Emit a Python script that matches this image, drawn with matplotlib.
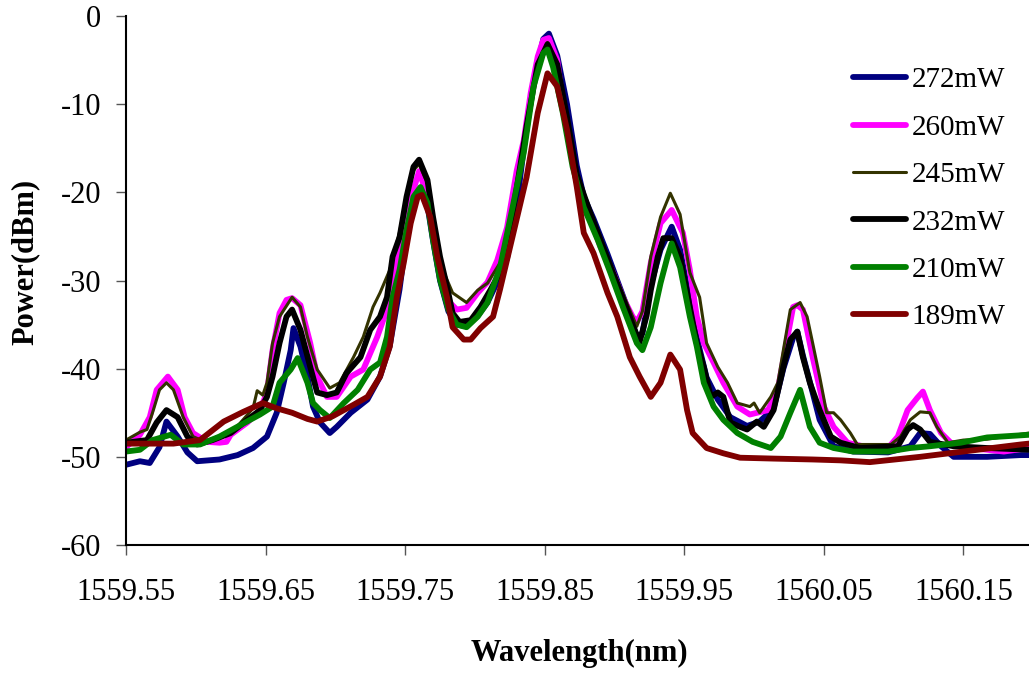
import matplotlib

matplotlib.use('Agg')
import matplotlib.pyplot as plt
import numpy as np

plt.rcParams['font.family'] = 'Liberation Serif'
plt.rcParams['axes.unicode_minus'] = False

# Wavelength (nm) / power (dBm)
wl_272 = [1559.550, 1559.560, 1559.567, 1559.574, 1559.579, 1559.587, 1559.594, 1559.601, 1559.617, 1559.630,
          1559.641, 1559.651, 1559.658, 1559.663, 1559.668, 1559.670, 1559.675, 1559.680, 1559.684, 1559.689,
          1559.696, 1559.701, 1559.711, 1559.723, 1559.732, 1559.739, 1559.746, 1559.751, 1559.756, 1559.761,
          1559.766, 1559.770, 1559.775, 1559.781, 1559.787, 1559.794, 1559.802, 1559.809, 1559.818, 1559.823,
          1559.830, 1559.835, 1559.842, 1559.849, 1559.853, 1559.859, 1559.866, 1559.873, 1559.878, 1559.885,
          1559.895, 1559.902, 1559.909, 1559.916, 1559.920, 1559.926, 1559.933, 1559.941, 1559.947, 1559.954,
          1559.959, 1559.966, 1559.974, 1559.983, 1559.995, 1560.004, 1560.014, 1560.021, 1560.028, 1560.031,
          1560.035, 1560.040, 1560.047, 1560.057, 1560.071, 1560.096, 1560.112, 1560.119, 1560.126, 1560.134,
          1560.143, 1560.167, 1560.191, 1560.197]
p_272 = [-50.9, -50.5, -50.7, -48.9, -46.0, -47.7, -49.5, -50.5, -50.3, -49.8,
         -49.0, -47.7, -45.0, -41.6, -37.9, -35.4, -37.5, -40.9, -44.3, -46.1,
         -47.3, -46.6, -45.0, -43.5, -40.9, -37.4, -31.0, -25.0, -21.0, -19.8,
         -21.5, -25.5, -30.0, -33.5, -35.0, -35.2, -34.0, -32.5, -29.5, -27.5,
         -21.5, -15.0, -7.5, -2.6, -2.0, -4.5, -10.0, -17.0, -20.5, -23.0,
         -27.0, -30.0, -33.0, -36.4, -36.0, -30.5, -26.5, -23.9, -26.5, -32.5,
         -36.5, -41.0, -43.5, -45.5, -46.5, -46.0, -44.5, -40.0, -36.5, -35.8,
         -38.5, -41.5, -45.8, -48.8, -49.4, -49.5, -48.8, -47.3, -47.4, -48.8,
         -50.0, -50.0, -49.8, -49.8]

wl_260 = [1559.550, 1559.560, 1559.567, 1559.572, 1559.580, 1559.587, 1559.592, 1559.598, 1559.608, 1559.617,
          1559.622, 1559.625, 1559.637, 1559.646, 1559.651, 1559.655, 1559.660, 1559.665, 1559.669, 1559.675,
          1559.682, 1559.687, 1559.694, 1559.701, 1559.711, 1559.720, 1559.730, 1559.737, 1559.744, 1559.749,
          1559.756, 1559.760, 1559.766, 1559.770, 1559.775, 1559.782, 1559.787, 1559.794, 1559.802, 1559.809,
          1559.816, 1559.823, 1559.830, 1559.835, 1559.840, 1559.845, 1559.849, 1559.853, 1559.859, 1559.863,
          1559.868, 1559.875, 1559.883, 1559.890, 1559.899, 1559.906, 1559.913, 1559.916, 1559.920, 1559.926,
          1559.933, 1559.941, 1559.949, 1559.954, 1559.959, 1559.964, 1559.971, 1559.978, 1559.988, 1559.997,
          1560.010, 1560.017, 1560.024, 1560.028, 1560.031, 1560.035, 1560.042, 1560.050, 1560.057, 1560.067,
          1560.078, 1560.096, 1560.103, 1560.110, 1560.117, 1560.121, 1560.126, 1560.134, 1560.141, 1560.155,
          1560.179, 1560.197]
p_260 = [-48.9, -47.5, -45.5, -42.4, -40.9, -42.4, -45.5, -47.3, -48.3, -48.4,
         -48.3, -47.5, -46.1, -44.7, -42.7, -37.9, -33.7, -32.2, -32.0, -32.8,
         -37.1, -40.9, -43.2, -43.2, -40.9, -40.1, -36.4, -33.3, -27.3, -23.5,
         -19.7, -17.6, -20.5, -24.6, -28.8, -32.5, -33.3, -33.1, -31.4, -30.2,
         -27.7, -24.0, -17.5, -14.1, -8.7, -4.6, -2.7, -2.5, -5.0, -9.9,
         -14.9, -20.1, -23.1, -26.2, -29.1, -31.9, -34.1, -34.7, -33.5, -28.0,
         -23.5, -22.0, -24.6, -28.8, -34.1, -37.1, -39.3, -41.6, -44.3, -45.2,
         -44.7, -42.4, -36.4, -33.0, -32.8, -33.3, -38.7, -44.3, -46.6, -48.4,
         -48.8, -49.0, -47.7, -44.7, -43.3, -42.6, -44.7, -47.3, -48.4, -49.0,
         -49.4, -49.0]

wl_245 = [1559.550, 1559.560, 1559.565, 1559.569, 1559.574, 1559.579, 1559.584, 1559.591, 1559.598, 1559.608,
          1559.617, 1559.630, 1559.641, 1559.644, 1559.648, 1559.651, 1559.655, 1559.660, 1559.669, 1559.675,
          1559.680, 1559.687, 1559.696, 1559.703, 1559.713, 1559.720, 1559.727, 1559.732, 1559.739, 1559.746,
          1559.751, 1559.756, 1559.760, 1559.766, 1559.770, 1559.777, 1559.784, 1559.794, 1559.802, 1559.809,
          1559.818, 1559.823, 1559.830, 1559.837, 1559.845, 1559.852, 1559.859, 1559.866, 1559.873, 1559.883,
          1559.895, 1559.906, 1559.916, 1559.920, 1559.926, 1559.933, 1559.940, 1559.947, 1559.954, 1559.961,
          1559.966, 1559.974, 1559.981, 1559.988, 1559.997, 1560.000, 1560.004, 1560.012, 1560.017, 1560.021,
          1560.026, 1560.033, 1560.038, 1560.042, 1560.047, 1560.052, 1560.057, 1560.062, 1560.069, 1560.074,
          1560.098, 1560.105, 1560.112, 1560.119, 1560.126, 1560.131, 1560.139, 1560.150, 1560.167, 1560.197]
p_245 = [-48.1, -47.2, -46.9, -45.0, -42.4, -41.6, -42.4, -45.5, -47.7, -48.4,
         -47.8, -46.5, -44.5, -42.5, -43.0, -41.6, -37.1, -34.1, -31.9, -33.0,
         -36.4, -40.1, -42.2, -41.6, -38.7, -36.4, -33.0, -31.4, -28.8, -24.5,
         -20.5, -17.5, -16.8, -19.0, -24.3, -28.8, -31.4, -32.5, -31.1, -30.3,
         -28.0, -25.5, -20.0, -13.0, -5.5, -3.0, -5.5, -11.5, -18.0, -22.5,
         -27.5, -31.5, -35.2, -33.5, -27.3, -22.8, -20.1, -22.5, -29.1, -31.9,
         -37.1, -39.8, -41.6, -43.9, -44.3, -43.9, -45.0, -43.2, -41.6, -37.9,
         -33.3, -32.5, -34.1, -37.1, -40.9, -45.0, -45.0, -45.8, -47.3, -48.6,
         -48.6, -47.7, -45.8, -44.9, -45.0, -46.6, -48.4, -48.1, -48.0, -47.3]

wl_232 = [1559.550, 1559.565, 1559.572, 1559.579, 1559.587, 1559.594, 1559.601, 1559.612, 1559.625, 1559.637,
          1559.646, 1559.651, 1559.655, 1559.660, 1559.665, 1559.669, 1559.675, 1559.682, 1559.687, 1559.694,
          1559.701, 1559.708, 1559.718, 1559.725, 1559.732, 1559.737, 1559.741, 1559.746, 1559.751, 1559.756,
          1559.760, 1559.766, 1559.770, 1559.775, 1559.780, 1559.784, 1559.789, 1559.797, 1559.804, 1559.811,
          1559.818, 1559.823, 1559.830, 1559.837, 1559.845, 1559.852, 1559.859, 1559.866, 1559.873, 1559.883,
          1559.895, 1559.906, 1559.913, 1559.918, 1559.923, 1559.926, 1559.931, 1559.935, 1559.941, 1559.947,
          1559.954, 1559.959, 1559.964, 1559.969, 1559.974, 1559.978, 1559.983, 1559.990, 1559.995, 1560.002,
          1560.007, 1560.014, 1560.021, 1560.026, 1560.031, 1560.035, 1560.040, 1560.047, 1560.055, 1560.062,
          1560.076, 1560.103, 1560.110, 1560.114, 1560.119, 1560.126, 1560.143, 1560.167, 1560.197]
p_232 = [-48.4, -48.1, -46.1, -44.7, -45.5, -47.7, -48.6, -48.1, -47.3, -45.8,
         -44.7, -43.2, -40.9, -37.1, -34.1, -33.3, -35.6, -39.8, -42.7, -43.0,
         -42.7, -40.5, -38.7, -35.6, -34.1, -31.9, -27.3, -25.1, -20.5, -17.1,
         -16.3, -18.6, -22.8, -27.3, -30.7, -33.7, -34.7, -34.5, -33.0, -31.1,
         -29.1, -26.0, -19.5, -12.5, -5.5, -3.2, -5.5, -11.5, -18.0, -22.5,
         -27.5, -32.0, -35.0, -37.0, -34.0, -31.1, -27.3, -25.2, -25.2, -27.3,
         -33.0, -37.1, -39.8, -43.2, -42.7, -43.2, -46.1, -46.6, -46.9, -46.0,
         -46.6, -44.7, -39.8, -36.7, -35.8, -38.7, -41.6, -44.7, -47.7, -48.4,
         -49.0, -48.8, -46.9, -46.4, -46.9, -48.3, -48.8, -49.0, -49.2]

wl_210 = [1559.550, 1559.560, 1559.569, 1559.582, 1559.591, 1559.603, 1559.617, 1559.632, 1559.646, 1559.655,
          1559.660, 1559.668, 1559.673, 1559.680, 1559.684, 1559.689, 1559.696, 1559.706, 1559.716, 1559.725,
          1559.732, 1559.737, 1559.741, 1559.746, 1559.751, 1559.756, 1559.761, 1559.766, 1559.770, 1559.775,
          1559.781, 1559.787, 1559.794, 1559.802, 1559.809, 1559.818, 1559.827, 1559.835, 1559.842, 1559.849,
          1559.852, 1559.856, 1559.863, 1559.870, 1559.878, 1559.888, 1559.897, 1559.906, 1559.916, 1559.920,
          1559.926, 1559.933, 1559.938, 1559.941, 1559.947, 1559.954, 1559.959, 1559.964, 1559.971, 1559.978,
          1559.988, 1559.999, 1560.012, 1560.019, 1560.026, 1560.033, 1560.040, 1560.047, 1560.057, 1560.071,
          1560.096, 1560.112, 1560.126, 1560.148, 1560.167, 1560.197]
p_210 = [-49.4, -49.2, -48.1, -47.5, -48.6, -48.6, -47.7, -46.4, -45.2, -44.3,
         -41.6, -40.1, -38.8, -41.6, -43.9, -44.7, -45.6, -43.9, -42.4, -40.1,
         -39.3, -36.4, -31.9, -28.8, -24.3, -20.5, -19.4, -21.2, -25.4, -29.9,
         -33.3, -35.0, -35.3, -34.1, -32.5, -28.5, -21.7, -15.5, -8.0, -4.2,
         -3.8, -5.8, -11.0, -17.1, -21.7, -25.4, -29.1, -33.0, -37.1, -37.9,
         -35.3, -30.3, -27.3, -25.8, -28.5, -34.1, -37.5, -41.6, -44.3, -45.8,
         -47.3, -48.3, -49.0, -47.7, -45.0, -42.4, -46.6, -48.4, -49.0, -49.4,
         -49.4, -49.0, -48.8, -48.4, -47.8, -47.5]

wl_189 = [1559.550, 1559.584, 1559.603, 1559.620, 1559.634, 1559.648, 1559.658, 1559.669, 1559.680, 1559.687,
          1559.698, 1559.713, 1559.723, 1559.732, 1559.739, 1559.744, 1559.749, 1559.754, 1559.759, 1559.762,
          1559.768, 1559.773, 1559.780, 1559.784, 1559.792, 1559.797, 1559.804, 1559.813, 1559.818, 1559.827,
          1559.837, 1559.845, 1559.852, 1559.859, 1559.866, 1559.873, 1559.878, 1559.885, 1559.895, 1559.902,
          1559.911, 1559.918, 1559.926, 1559.933, 1559.940, 1559.947, 1559.952, 1559.956, 1559.966, 1559.978,
          1559.990, 1560.014, 1560.042, 1560.062, 1560.083, 1560.119, 1560.155, 1560.191, 1560.197]
p_189 = [-48.5, -48.5, -48.1, -46.0, -44.9, -43.9, -44.5, -45.0, -45.7, -46.0,
         -45.4, -44.1, -43.2, -40.9, -37.5, -31.9, -28.0, -23.5, -20.5, -20.3,
         -22.8, -27.3, -31.9, -35.3, -36.7, -36.7, -35.4, -34.1, -31.0, -25.0,
         -18.3, -11.0, -6.5, -8.0, -12.9, -19.4, -24.6, -26.9, -31.4, -34.1,
         -38.7, -40.9, -43.2, -41.6, -38.4, -40.1, -44.7, -47.3, -49.0, -49.6,
         -50.1, -50.2, -50.3, -50.4, -50.6, -50.0, -49.3, -48.6, -48.5]

labels = ['272mW', '260mW', '245mW', '232mW', '210mW', '189mW']
colors = ['#000080', '#FF00FF', '#333300', '#000000', '#008000', '#800000']
widths = [4.2, 4.2, 2.2, 4.2, 4.2, 4.2]
series = [(wl_272, p_272), (wl_260, p_260), (wl_245, p_245),
          (wl_232, p_232), (wl_210, p_210), (wl_189, p_189)]

x_ticks = [1559.55, 1559.65, 1559.75, 1559.85, 1559.95, 1560.05, 1560.15]
y_ticks = [0, -10, -20, -30, -40, -50, -60]

fig = plt.figure(figsize=(10.29, 6.73), dpi=100)
ax = fig.add_axes([126 / 1029, 128 / 673, 1 - 126 / 1029, (545 - 16) / 673])

for (x, y), lab, c, lw in zip(series, labels, colors, widths):
    ax.plot(x, y, color=c, linewidth=lw, label=lab, solid_joinstyle='round', solid_capstyle='round')

ax.set_xlim(1559.55, 1560.197)
ax.set_ylim(-60, 0)
ax.set_xticks(x_ticks)
ax.set_xticklabels([f'{v:.2f}' for v in x_ticks])
ax.set_yticks(y_ticks)
ax.set_yticklabels([str(v) for v in y_ticks])

ax.spines['top'].set_visible(False)
ax.spines['right'].set_visible(False)
ax.spines['left'].set_linewidth(1.5)
ax.spines['bottom'].set_linewidth(1.5)
ax.tick_params(axis='both', direction='out', length=7, width=1.0, color='#555555', labelsize=22)
ax.tick_params(axis='x', pad=17)
ax.tick_params(axis='y', pad=11)

fig.text(25 / 1029, 1 - 262 / 673, 'Power(dBm)', rotation=90, ha='center', va='center',
         fontsize=22, fontweight='bold')
fig.text(579 / 1029, 1 - 653 / 673, 'Wavelength(nm)', ha='center', va='center',
         fontsize=22, fontweight='bold')

ax.legend(loc='upper left', bbox_to_anchor=(853 / 1029, 1 - 67 / 673), bbox_transform=fig.transFigure,
          frameon=False, fontsize=21, handlelength=1.8, handletextpad=0.2, labelspacing=0.72,
          borderpad=0, borderaxespad=0)

fig.savefig('out.png', dpi=100)
